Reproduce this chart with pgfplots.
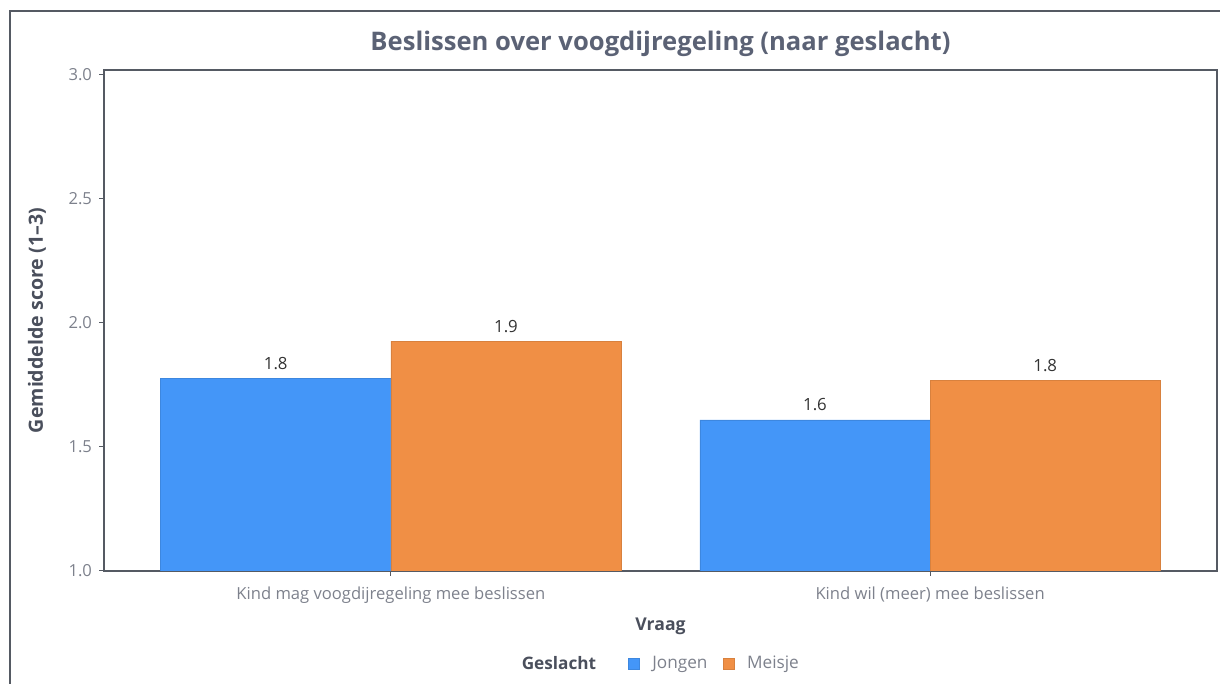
\documentclass[border=0pt]{standalone}
\usepackage{pgfplots}
\pgfplotsset{compat=1.18}
\usepackage{fontspec}
\setmainfont{Open Sans}
\definecolor{jong}{HTML}{4496F8}
\definecolor{meis}{HTML}{F08F45}
\definecolor{titlec}{HTML}{5B6275}
\definecolor{tickc}{HTML}{7D818C}
\definecolor{labc}{HTML}{4A4F5C}
\definecolor{axc}{HTML}{555A63}
\begin{document}
\begin{tikzpicture}
\path[use as bounding box] (0,0) rectangle (610pt,342pt);
\draw[color=axc, line width=0.6pt] (5pt,0pt) -- (5pt,336.5pt) -- (610pt,336.5pt);
\begin{axis}[
  at={(52pt,56.5pt)}, anchor=south west,
  width=556.5pt, height=250.5pt, scale only axis,
  xmin=-0.532, xmax=1.532, ymin=1, ymax=3.02,
  ybar, bar width=0.427,
  xtick={0,1},
  xticklabels={Kind mag voogdijregeling mee beslissen, Kind wil (meer) mee beslissen},
  ytick={1,1.5,2,2.5,3},
  /pgf/number format/assume math mode=true,
  yticklabel style={/pgf/number format/fixed, /pgf/number format/fixed zerofill, /pgf/number format/precision=1, font=\fontsize{8.3pt}{9pt}\selectfont, text=tickc},
  xticklabel style={font=\fontsize{8.3pt}{9pt}\selectfont, text=tickc, anchor=base, yshift=-12pt},
  tick align=outside, tick pos=left, major tick length=2.5pt,
  tick style={color=axc, line width=0.5pt},
  axis line style={color=axc, line width=0.6pt},
  title={Beslissen over voogdijregeling (naar geslacht)},
  every axis title/.style={font=\fontsize{12.8pt}{14pt}\selectfont\bfseries, text=titlec, at={(0.5,1)}, anchor=base, yshift=9.5pt},
  xlabel={Vraag},
  every axis x label/.style={font=\fontsize{8.8pt}{10pt}\selectfont\bfseries, text=labc, at={(0.5,0)}, anchor=center, yshift=-27.5pt},
  ylabel={Gemiddelde score (1--3)},
  every axis y label/.style={font=\fontsize{9.8pt}{11pt}\selectfont\bfseries, text=labc, at={(axis description cs:-0.0602,0.5)}, anchor=center, rotate=90},
  nodes near coords,
  nodes near coords style={font=\fontsize{8.4pt}{9pt}\selectfont, text=black!80, anchor=base, yshift=4.5pt, inner sep=0pt, /pgf/number format/fixed, /pgf/number format/fixed zerofill, /pgf/number format/precision=1},
  legend style={draw=none, fill=none, legend columns=-1, at={(0.494,-0.1856)}, anchor=center,
    font=\fontsize{8.6pt}{10pt}\selectfont, text=tickc,
    nodes={inner sep=0pt},
    /tikz/every odd column/.append style={column sep=6.5pt},
    /tikz/every even column/.append style={column sep=7.5pt}},
  area legend,
  legend image code/.code={\fill[#1] (0pt,-2.75pt) rectangle (5.5pt,2.75pt);},
]
\addlegendimage{empty legend}
\addlegendentry{\makebox[45.5pt][l]{\textcolor{labc}{\bfseries Geslacht}}}
\addplot[fill=jong, draw=jong!90!black, line width=0.3pt, bar shift=-0.2135] coordinates {(0,1.778) (1,1.609)};
\addlegendentry{Jongen}
\addplot[fill=meis, draw=meis!90!black, line width=0.3pt, bar shift=0.2135] coordinates {(0,1.927) (1,1.770)};
\addlegendentry{Meisje}
\end{axis}
\end{tikzpicture}
\end{document}
